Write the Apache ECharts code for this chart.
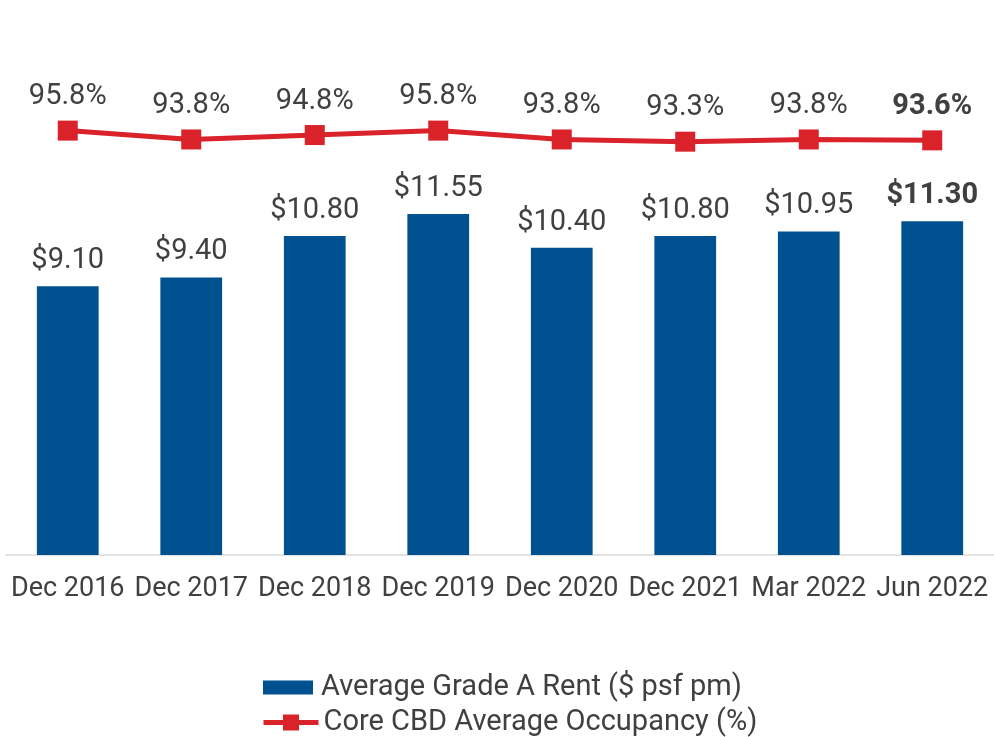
<!DOCTYPE html>
<html>
<head>
<meta charset="utf-8">
<script src="https://cdn.jsdelivr.net/npm/echarts@6/dist/echarts.min.js"></script>
<style>
html,body{margin:0;padding:0;background:#fff;}
#chart{width:994px;height:737px;}
</style>
</head>
<body>
<div id="chart"></div>
<script>
const categories = ['Dec 2016','Dec 2017','Dec 2018','Dec 2019','Dec 2020','Dec 2021','Mar 2022','Jun 2022'];
const rentValues = [9.10, 9.40, 10.80, 11.55, 10.40, 10.80, 10.95, 11.30];
const occupancyValues = [95.8, 93.8, 94.8, 95.8, 93.8, 93.3, 93.8, 93.6];
const rentName = 'Average Grade A Rent ($ psf pm)';
const occName = 'Core CBD Average Occupancy (%)';

const TEXT = '#404040';
const BLUE = '#00518F';
const RED = '#D9222A';
const FONT = 'Roboto';
const last = categories.length - 1;

const rentData = rentValues.map((v, i) => i === last ? {value: v, label: {fontWeight: 'bold'}} : v);
const occData = occupancyValues.map((v, i) => i === last ? {value: v, label: {fontWeight: 'bold'}} : v);

const chart = echarts.init(document.getElementById('chart'));
chart.setOption({
  animation: false,
  backgroundColor: '#fff',
  textStyle: {fontFamily: FONT, color: TEXT},
  grid: {left: 6, width: 991, top: 112, bottom: 182, containLabel: false},
  legend: [
    {
      data: [rentName], left: 263, top: 673, padding: 0,
      itemWidth: 50, itemHeight: 14, icon: 'rect',
      textStyle: {fontFamily: FONT, fontSize: 29, color: TEXT, padding: [0,0,0,3]}
    },
    {
      data: [occName], left: 261, top: 708, padding: 0,
      itemWidth: 55, itemHeight: 20,
      lineStyle: {width: 5},
      textStyle: {fontFamily: FONT, fontSize: 29, color: TEXT, padding: [0,0,0,0]}
    }
  ],
  xAxis: {
    type: 'category', data: categories,
    axisLine: {show: true, lineStyle: {color: '#D9D9D9', width: 1.5}},
    axisTick: {show: false},
    axisLabel: {fontFamily: FONT, fontSize: 27, color: TEXT, margin: 21, interval: 0}
  },
  yAxis: [
    {type: 'value', min: 0, max: 15, show: false, splitLine: {show: false}},
    {type: 'value', min: 0, max: 100, show: false, splitLine: {show: false}}
  ],
  series: [
    {
      name: rentName, type: 'bar', data: rentData, yAxisIndex: 0,
      barWidth: '50%',
      itemStyle: {color: BLUE},
      label: {show: true, position: 'top', distance: 11, fontFamily: FONT, fontSize: 29, color: TEXT,
        formatter: p => '$' + p.value.toFixed(2)}
    },
    {
      name: occName, type: 'line', data: occData, yAxisIndex: 1,
      symbol: 'rect', symbolSize: 20,
      lineStyle: {color: RED, width: 5},
      itemStyle: {color: RED},
      label: {show: true, position: 'top', distance: 9, fontFamily: FONT, fontSize: 29, color: TEXT,
        formatter: p => p.value.toFixed(1) + '%'}
    }
  ]
});
</script>
</body>
</html>
